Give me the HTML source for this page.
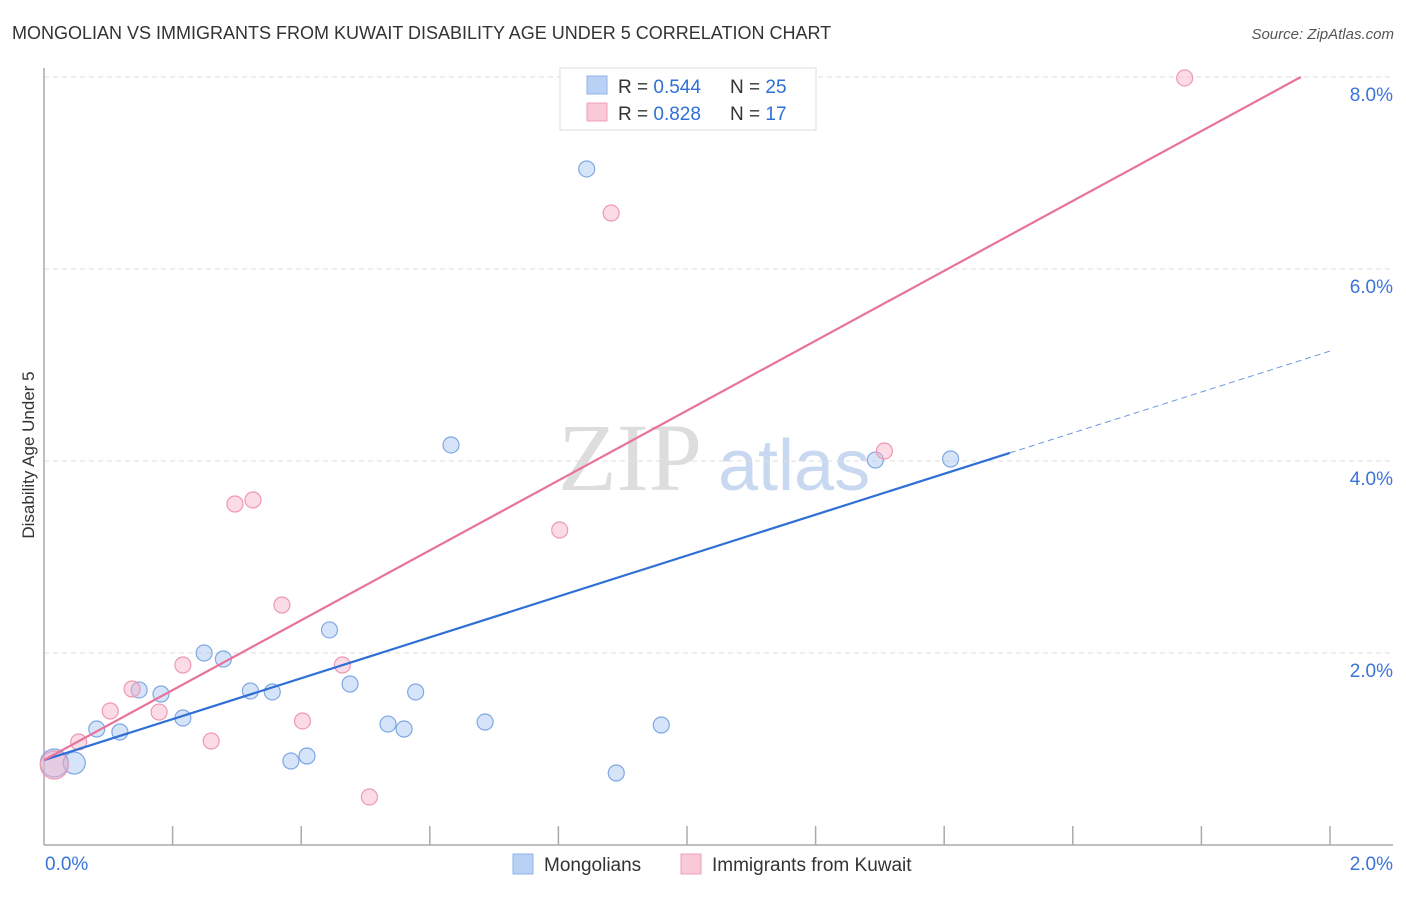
<!DOCTYPE html>
<html><head><meta charset="utf-8"><style>
body{margin:0;background:#fff;font-family:"Liberation Sans",sans-serif;}
</style></head><body>
<svg width="1406" height="892" xmlns="http://www.w3.org/2000/svg" font-family="Liberation Sans, sans-serif">
<text x="12" y="39" font-size="18" fill="#333">MONGOLIAN VS IMMIGRANTS FROM KUWAIT DISABILITY AGE UNDER 5 CORRELATION CHART</text>
<text x="1394" y="39" font-size="15" fill="#555" font-style="italic" text-anchor="end">Source: ZipAtlas.com</text>
<text x="558" y="490" font-size="96" fill="#ddd" font-family="Liberation Serif, serif">ZIP</text>
<text x="718" y="490" font-size="72" fill="#c8d8f0">atlas</text>
<g id="grid"></g>
<g id="axes"></g>
<g id="marks"></g>
<text transform="translate(34,455) rotate(-90)" font-size="17" fill="#333" text-anchor="middle">Disability Age Under 5</text>
<g>
<rect x="560" y="68" width="256" height="62" fill="#fff" stroke="#ddd"/>
<rect x="587" y="76" width="20" height="18" fill="#b9d1f5" stroke="#8fb3e8"/>
<rect x="587" y="103" width="20" height="18" fill="#f9c9d7" stroke="#f0a0b8"/>
<text x="618" y="93" font-size="19" fill="#333">R = <tspan fill="#2f6fd6">0.544</tspan></text>
<text x="730" y="93" font-size="19" fill="#333">N = <tspan fill="#2f6fd6">25</tspan></text>
<text x="618" y="120" font-size="19" fill="#333">R = <tspan fill="#2f6fd6"> 0.828</tspan></text>
<text x="730" y="120" font-size="19" fill="#333">N = <tspan fill="#2f6fd6"> 17</tspan></text>
</g>
<g>
<rect x="513" y="854" width="20" height="20" fill="#b9d1f5" stroke="#8fb3e8"/>
<text x="544" y="871" font-size="19" fill="#333">Mongolians</text>
<rect x="681" y="854" width="20" height="20" fill="#f9c9d7" stroke="#f0a0b8"/>
<text x="712" y="871" font-size="19" fill="#333">Immigrants from Kuwait</text>
</g>
</svg>
<script>
const blueX=[0.016,0.047,0.082,0.118,0.148,0.182,0.216,0.249,0.279,0.321,0.355,0.384,0.409,0.444,0.476,0.535,0.560,0.578,0.633,0.686,0.844,0.890,0.960,1.293,1.410];
const blueY=[0.854,0.854,1.208,1.177,1.615,1.573,1.323,2.0,1.9375,1.604,1.594,0.875,0.927,2.240,1.677,1.260,1.208,1.594,4.167,1.281,7.042,0.75,1.25,4.010,4.021];
const pinkX=[0.016,0.054,0.103,0.137,0.179,0.216,0.260,0.297,0.325,0.370,0.402,0.464,0.506,0.802,0.882,1.307,1.774];
const pinkY=[0.833,1.073,1.396,1.625,1.385,1.875,1.083,3.552,3.594,2.5,1.292,1.875,0.5,3.281,6.583,4.104,7.990];
const blueFit=[0.885,2.13];
const pinkFit=[0.885,3.64];
const yTicks=[2,4,6,8];
const xTickLabels=["0.0%","2.0%"];
const NS="http://www.w3.org/2000/svg";
const X=v=>44+v*643, Y=v=>845-v*96;
function mk(p,t,a){const e=document.createElementNS(NS,t);for(const k in a)e.setAttribute(k,a[k]);p.appendChild(e);return e;}
const grid=document.getElementById('grid'),axes=document.getElementById('axes'),marks=document.getElementById('marks');
yTicks.forEach(t=>{
 const l=mk(grid,'line',{x1:44,x2:1393,y1:Y(t),y2:Y(t),stroke:'#ddd','stroke-dasharray':'5,4'});
 
 
 const tx=mk(grid,'text',{x:1393,y:Y(t)+24,'font-size':19,fill:'#3a74d8','text-anchor':'end'});
 tx.textContent=t.toFixed(1)+'%';
 
 
});
mk(axes,'line',{x1:44,x2:44,y1:68,y2:845,stroke:'#aaa','stroke-width':1.5});
mk(axes,'line',{x1:44,x2:1393,y1:845,y2:845,stroke:'#aaa','stroke-width':1.5});
for(let i=1;i<=10;i++){mk(axes,'line',{x1:X(i*0.2),x2:X(i*0.2),y1:826,y2:845,stroke:'#aaa','stroke-width':1.5});}
const xl0=mk(axes,'text',{x:45,y:870,'font-size':19,fill:'#3a74d8'});xl0.textContent=xTickLabels[0];


const xl1=mk(axes,'text',{x:1393,y:870,'font-size':19,fill:'#3a74d8','text-anchor':'end'});xl1.textContent=xTickLabels[1];


function pts(xs,ys,fill,stroke,name){xs.forEach((x,i)=>{
 const r=i===0?14:(name==='mongolian-point'&&i===1?11:8);
 const c=mk(marks,'circle',{cx:X(x),cy:Y(ys[i]),r:r,fill:fill,stroke:stroke,'stroke-width':1.2});
 
 
});}
pts(blueX,blueY,'rgba(164,196,242,0.45)','#7fa7e4','mongolian-point');
pts(pinkX,pinkY,'rgba(246,176,198,0.45)','#ee98b2','kuwait-point');
const bl=mk(marks,'line',{x1:X(0),y1:Y(blueFit[0]),x2:X(1.502),y2:Y(blueFit[0]+blueFit[1]*1.502),stroke:'#2f6fd6','stroke-width':2.2});


const bd=mk(marks,'line',{x1:X(1.502),y1:Y(blueFit[0]+blueFit[1]*1.502),x2:X(2.0),y2:Y(blueFit[0]+blueFit[1]*2.0),stroke:'#6b98de','stroke-width':1,'stroke-dasharray':'6,4'});


const xe=(8-pinkFit[0])/pinkFit[1];
const pl=mk(marks,'line',{x1:X(0),y1:Y(pinkFit[0]),x2:X(xe),y2:Y(8),stroke:'#e8729a','stroke-width':2.2});


</script>
</body></html>
